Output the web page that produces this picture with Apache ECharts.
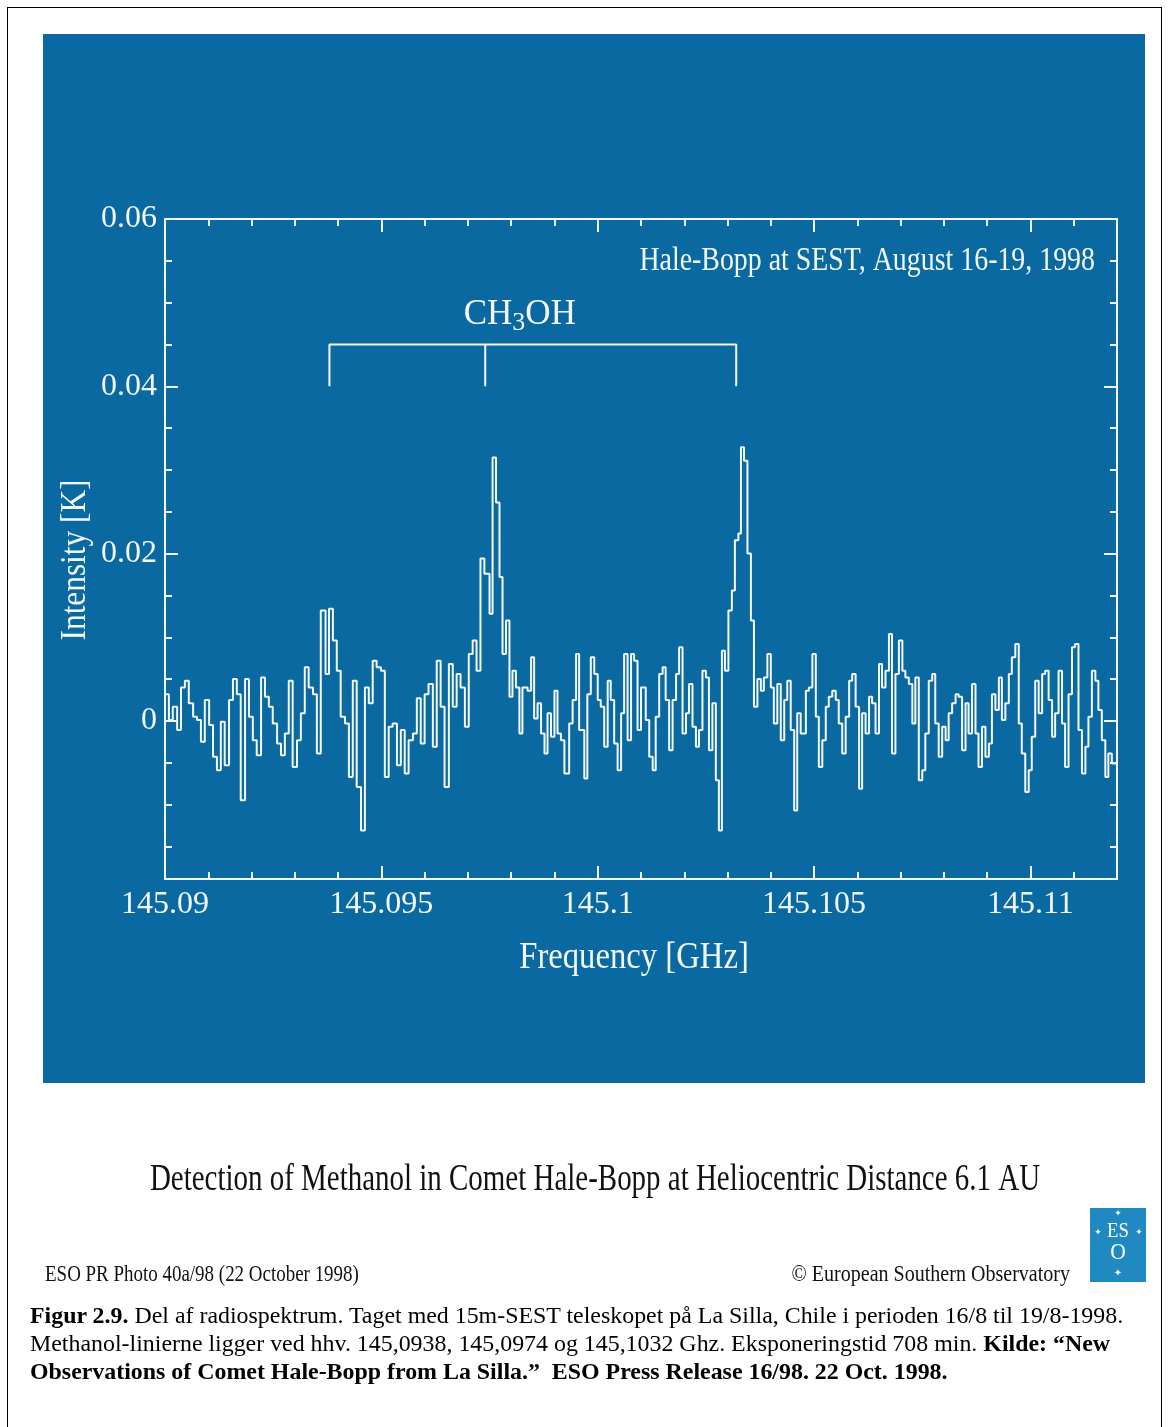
<!DOCTYPE html>
<html><head><meta charset="utf-8">
<script src="https://cdn.jsdelivr.net/npm/echarts@6/dist/echarts.min.js"></script>
<style>
html,body{margin:0;padding:0;background:#fff;}
#wrap{position:relative;width:1169px;height:1427px;overflow:hidden;background:#fff;}
#chart{position:absolute;left:0;top:0;width:1169px;height:1427px;}
#frame{position:absolute;left:7px;top:7px;width:1155px;height:1460px;border:1.5px solid #000;box-sizing:border-box;pointer-events:none;}
#caption{position:absolute;left:30px;top:1301px;font-family:'Liberation Serif','Times New Roman',serif;font-size:23.9px;line-height:28px;color:#000;white-space:nowrap;}
</style></head>
<body>
<div id="wrap">
<div id="chart"></div>
<div id="frame"></div>
<div id="caption"><b>Figur 2.9.</b> Del af radiospektrum. Taget med 15m-SEST teleskopet på La Silla, Chile i perioden 16/8 til 19/8-1998.<br>Methanol-linierne ligger ved hhv. 145,0938, 145,0974 og 145,1032 Ghz. Eksponeringstid 708 min. <b>Kilde: “New</b><br><b>Observations of Comet Hale-Bopp from La Silla.”&nbsp; ESO Press Release 16/98. 22 Oct. 1998.</b></div>
</div>
<script>
// ---------------- DATA ----------------
const frequencyGHz = [
145.09000,145.09009,145.09018,145.09028,145.09037,145.09046,145.09055,145.09065,145.09074,145.09083,
145.09092,145.09102,145.09111,145.09120,145.09129,145.09138,145.09148,145.09157,145.09166,145.09175,
145.09185,145.09194,145.09203,145.09212,145.09222,145.09231,145.09240,145.09249,145.09259,145.09268,
145.09277,145.09286,145.09295,145.09305,145.09314,145.09323,145.09332,145.09342,145.09351,145.09360,
145.09371,145.09379,145.09388,145.09397,145.09406,145.09416,145.09425,145.09434,145.09443,145.09453,
145.09462,145.09471,145.09480,145.09489,145.09499,145.09508,145.09517,145.09526,145.09536,145.09545,
145.09554,145.09563,145.09573,145.09582,145.09591,145.09600,145.09609,145.09619,145.09628,145.09637,
145.09646,145.09656,145.09665,145.09674,145.09683,145.09693,145.09702,145.09711,145.09720,145.09729,
145.09738,145.09750,145.09757,145.09765,145.09773,145.09780,145.09788,145.09796,145.09803,145.09811,
145.09819,145.09826,145.09838,145.09846,145.09853,145.09861,145.09869,145.09877,145.09884,145.09892,
145.09900,145.09907,145.09915,145.09923,145.09934,145.09942,145.09950,145.09957,145.09969,145.09976,
145.09984,145.09992,145.10000,145.10007,145.10015,145.10023,145.10030,145.10038,145.10046,145.10054,
145.10061,145.10069,145.10077,145.10084,145.10092,145.10100,
145.10111,145.10119,145.10127,145.10134,145.10142,145.10150,145.10157,145.10165,145.10173,145.10181,
145.10188,145.10196,145.10204,145.10211,145.10219,145.10227,145.10234,145.10242,145.10250,145.10257,
145.10265,145.10273,145.10280,145.10287,145.10294,145.10302,145.10310,145.10317,145.10325,145.10331,
145.10338,145.10346,145.10354,145.10361,145.10369,145.10377,145.10384,145.10392,145.10400,145.10407,
145.10415,145.10423,145.10431,145.10438,145.10446,145.10454,145.10461,145.10469,
145.10481,145.10488,145.10496,145.10504,145.10511,145.10519,145.10527,145.10534,145.10542,145.10550,
145.10557,145.10565,145.10573,145.10581,145.10588,145.10596,145.10604,145.10611,145.10619,145.10627,
145.10634,145.10642,145.10650,145.10657,145.10665,145.10673,145.10680,145.10688,145.10696,145.10704,
145.10711,145.10719,145.10727,145.10734,145.10742,145.10750,145.10757,145.10765,145.10773,145.10780,
145.10788,145.10796,145.10804,145.10811,145.10819,145.10827,145.10834,
145.10842,145.10850,145.10857,145.10865,145.10873,145.10880,145.10888,145.10896,145.10904,145.10911,
145.10919,145.10927,145.10934,145.10942,145.10950,145.10957,145.10965,145.10973,145.10980,145.10988,
145.10996,145.11003,145.11011,145.11019,145.11027,145.11034,145.11042,145.11050,145.11057,145.11065,
145.11073,145.11080,145.11088,145.11096,145.11103,145.11111,145.11119,145.11127,145.11134,145.11142,
145.11150,145.11157,145.11165,145.11173,145.11180,145.11188,
145.11200
];
const intensityK = [
0.0032,0.0001,0.0017,-0.0011,0.0040,0.0048,0.0021,0.0005,0.0001,-0.0025,
0.0025,-0.0005,-0.0043,-0.0059,-0.0001,-0.0053,0.0025,0.0050,0.0032,-0.0095,
0.0050,0.0005,-0.0023,-0.0041,0.0052,0.0029,0.0017,-0.0003,-0.0027,-0.0041,
-0.0015,0.0048,-0.0055,-0.0023,0.0009,0.0064,0.0040,0.0032,-0.0039,0.0132,
0.0056,0.0134,0.0096,0.0060,0.0005,-0.0003,-0.0067,0.0048,-0.0079,-0.0131,
0.0040,0.0021,0.0072,0.0064,0.0060,-0.0067,-0.0007,-0.0003,-0.0053,-0.0011,
-0.0063,-0.0023,-0.0015,0.0027,-0.0027,0.0032,0.0044,-0.0031,0.0072,0.0017,
-0.0079,0.0068,0.0017,0.0056,0.0040,-0.0007,0.0080,0.0096,0.0060,0.0194,
0.0176,0.0128,0.0315,0.0261,0.0172,0.0080,0.0120,0.0029,0.0060,0.0040,
-0.0015,0.0040,0.0036,0.0076,0.0003,0.0021,-0.0015,-0.0039,0.0009,-0.0019,
0.0036,-0.0015,-0.0023,-0.0063,-0.0003,0.0025,0.0080,-0.0011,-0.0069,0.0032,
0.0076,0.0056,0.0025,0.0017,-0.0031,0.0048,0.0025,-0.0027,-0.0059,0.0009,
0.0080,-0.0023,0.0080,0.0072,-0.0011,0.0040,
0.0001,-0.0043,-0.0059,0.0005,0.0056,0.0064,0.0025,-0.0035,0.0025,0.0056,
0.0088,-0.0015,0.0009,0.0044,-0.0007,-0.0031,-0.0011,0.0060,0.0052,-0.0035,
0.0021,-0.0071,-0.0131,0.0084,0.0060,0.0132,0.0156,0.0216,0.0224,0.0327,
0.0311,0.0200,0.0120,0.0017,0.0050,0.0036,0.0052,0.0080,0.0040,-0.0003,
0.0044,-0.0023,0.0025,0.0048,-0.0011,-0.0107,0.0009,-0.0015,
0.0036,0.0040,0.0080,0.0005,-0.0055,-0.0023,0.0017,0.0029,0.0036,0.0025,
-0.0003,-0.0039,0.0005,0.0048,0.0056,0.0017,-0.0081,0.0009,-0.0015,0.0029,
0.0021,-0.0015,0.0068,0.0040,0.0060,0.0104,-0.0039,0.0056,0.0096,0.0060,
0.0052,0.0044,-0.0003,0.0052,-0.0071,-0.0059,-0.0015,0.0048,0.0056,-0.0003,
-0.0043,-0.0007,-0.0023,0.0009,0.0021,0.0032,0.0029,
-0.0035,0.0021,-0.0015,0.0044,-0.0015,-0.0055,-0.0007,-0.0043,-0.0027,0.0032,
0.0013,0.0052,0.0001,0.0021,0.0056,0.0076,0.0092,-0.0003,-0.0039,-0.0085,
-0.0059,-0.0019,0.0048,0.0009,0.0056,0.0060,0.0025,-0.0019,0.0009,0.0060,
-0.0003,-0.0055,0.0032,0.0088,0.0092,-0.0011,-0.0063,-0.0031,0.0005,0.0060,
0.0048,0.0013,-0.0023,-0.0067,-0.0039,-0.0051,
-0.0051
];
const xMajorTicks = [145.09, 145.095, 145.1, 145.105, 145.11];
const xMinorTicks = [145.090,145.091,145.092,145.093,145.094,145.095,145.096,145.097,145.098,145.099,145.100,
                     145.101,145.102,145.103,145.104,145.105,145.106,145.107,145.108,145.109,145.110,145.111,145.112];
const yMajorTicks = [0, 0.02, 0.04, 0.06];
const yMinorTicks = [-0.015,-0.01,-0.005,0,0.005,0.01,0.015,0.02,0.025,0.03,0.035,0.04,0.045,0.05,0.055,0.06];
const xRange = [145.09, 145.112];
const yRange = [-0.0189, 0.06];
const ch3ohLineFreqs = [145.0938, 145.0974, 145.1032];
const bracketIntensity = [0.040, 0.045];
const ch3ohLabelAt = [145.0982, 0.0485];

// ---------------- STYLE ----------------
const BLUE = '#0a69a0';
const WHITE = '#f3f8fb';
const SERIF = '"Liberation Serif", "DejaVu Serif", serif';

const chart = echarts.init(document.getElementById('chart'), null, {renderer: 'canvas'});

function xAxisDef(pos, ticks, len, labels) {
  return {
    type: 'value', gridIndex: 0, position: pos, min: xRange[0], max: xRange[1],
    axisLine: {show: false, onZero: false},
    splitLine: {show: false},
    axisTick: {show: true, inside: true, length: len, customValues: ticks, lineStyle: {color: WHITE, width: 2}},
    axisLabel: labels ? {show: true, customValues: ticks, margin: 10, color: WHITE, fontFamily: SERIF, fontSize: 32,
      formatter: v => String(+(+v).toFixed(3))} : {show: false}
  };
}
function yAxisDef(pos, ticks, len, labels) {
  return {
    type: 'value', gridIndex: 0, position: pos, min: yRange[0], max: yRange[1],
    axisLine: {show: false, onZero: false},
    splitLine: {show: false},
    axisTick: {show: true, inside: true, length: len, customValues: ticks, lineStyle: {color: WHITE, width: 2}},
    axisLabel: labels ? {show: true, customValues: ticks, margin: 8, color: WHITE, fontFamily: SERIF, fontSize: 32,
      formatter: v => (Math.abs(v) < 1e-9 ? '0' : (+v).toFixed(2))} : {show: false}
  };
}

const spectrum = frequencyGHz.map((f, i) => [f, intensityK[i]]);
const bracketOuter = [
  [ch3ohLineFreqs[0], bracketIntensity[0]], [ch3ohLineFreqs[0], bracketIntensity[1]],
  [ch3ohLineFreqs[2], bracketIntensity[1]], [ch3ohLineFreqs[2], bracketIntensity[0]]
];
const bracketMiddle = [[ch3ohLineFreqs[1], bracketIntensity[1]], [ch3ohLineFreqs[1], bracketIntensity[0]]];

const option = {
  backgroundColor: 'transparent',
  animation: false,
  grid: [{left: 165, top: 219, width: 952, height: 660, show: true, borderColor: WHITE, borderWidth: 2, backgroundColor: 'transparent'}],
  xAxis: [
    xAxisDef('bottom', xMinorTicks, 7, false),
    xAxisDef('bottom', xMajorTicks, 13, true),
    xAxisDef('top', xMinorTicks, 7, false),
    xAxisDef('top', xMajorTicks, 13, false)
  ],
  yAxis: [
    yAxisDef('left', yMinorTicks, 7, false),
    yAxisDef('left', yMajorTicks, 13, true),
    yAxisDef('right', yMinorTicks, 7, false),
    yAxisDef('right', yMajorTicks, 13, false)
  ],
  graphic: [
    {type: 'rect', z: -100, shape: {x: 43, y: 34, width: 1102, height: 1049}, style: {fill: BLUE}},
    {type: 'text', z: 100, x: 76, y: 560, rotation: Math.PI / 2, scaleX: 0.87,
      style: {text: 'Intensity [K]', font: '36px ' + SERIF, fill: WHITE, textAlign: 'center', textVerticalAlign: 'middle'}},
    {type: 'text', z: 100, x: 634, y: 958, scaleX: 0.86,
      style: {text: 'Frequency [GHz]', font: '38px ' + SERIF, fill: WHITE, textAlign: 'center', textVerticalAlign: 'middle'}},
    {type: 'text', z: 100, x: 1095, y: 261, scaleX: 0.82,
      style: {text: 'Hale-Bopp at SEST, August 16-19, 1998', font: '34px ' + SERIF, fill: WHITE, textAlign: 'right', textVerticalAlign: 'middle'}},
    {type: 'text', z: 100, x: 595, y: 1180, scaleX: 0.762,
      style: {text: 'Detection of Methanol in Comet Hale-Bopp at Heliocentric Distance 6.1 AU', font: '38px ' + SERIF, fill: '#111', textAlign: 'center', textVerticalAlign: 'middle'}},
    {type: 'text', z: 100, x: 45, y: 1275, scaleX: 0.79,
      style: {text: 'ESO PR Photo 40a/98 (22 October 1998)', font: '24px ' + SERIF, fill: '#111', textAlign: 'left', textVerticalAlign: 'middle'}},
    {type: 'text', z: 100, x: 1070, y: 1275, scaleX: 0.835,
      style: {text: '© European Southern Observatory', font: '24px ' + SERIF, fill: '#111', textAlign: 'right', textVerticalAlign: 'middle'}},
    {type: 'rect', z: 100, shape: {x: 1090, y: 1208, width: 56, height: 74}, style: {fill: '#2189c2'}},
    {type: 'text', z: 101, x: 1118, y: 1231, scaleX: 0.85,
      style: {text: 'ES', font: '22px ' + SERIF, fill: '#fff', textAlign: 'center', textVerticalAlign: 'middle'}},
    {type: 'text', z: 101, x: 1118, y: 1253, scaleX: 0.9,
      style: {text: 'O', font: '24px ' + SERIF, fill: '#fff', textAlign: 'center', textVerticalAlign: 'middle'}},
    {type: 'text', z: 101, x: 1118, y: 1214, style: {text: '✦', font: '9px "DejaVu Sans"', fill: '#fff', textAlign: 'center', textVerticalAlign: 'middle'}},
    {type: 'text', z: 101, x: 1098, y: 1233, style: {text: '✦', font: '9px "DejaVu Sans"', fill: '#fff', textAlign: 'center', textVerticalAlign: 'middle'}},
    {type: 'text', z: 101, x: 1139, y: 1233, style: {text: '✦', font: '9px "DejaVu Sans"', fill: '#fff', textAlign: 'center', textVerticalAlign: 'middle'}},
    {type: 'text', z: 101, x: 1118, y: 1273, style: {text: '✦', font: '10px "DejaVu Sans"', fill: '#fff', textAlign: 'center', textVerticalAlign: 'middle'}}
  ],
  series: [
    {type: 'line', name: 'spectrum', xAxisIndex: 0, yAxisIndex: 0, data: spectrum, step: 'end',
      showSymbol: false, symbol: 'none', clip: true, z: 5,
      lineStyle: {color: WHITE, width: 2}},
    {type: 'line', name: 'bracket', xAxisIndex: 0, yAxisIndex: 0, data: bracketOuter, showSymbol: false, symbol: 'none', z: 5,
      lineStyle: {color: WHITE, width: 2}},
    {type: 'line', name: 'bracketMid', xAxisIndex: 0, yAxisIndex: 0, data: bracketMiddle, showSymbol: false, symbol: 'none', z: 5,
      lineStyle: {color: WHITE, width: 2}},
    {type: 'scatter', name: 'label', xAxisIndex: 0, yAxisIndex: 0, data: [ch3ohLabelAt], symbolSize: 0, silent: true, z: 6,
      itemStyle: {color: WHITE, opacity: 1},
      label: {show: true, position: 'inside', color: WHITE, opacity: 1, textBorderWidth: 0, formatter: '{a|CH}{b|3}{a|OH}',
        rich: {
          a: {fontSize: 35, fontFamily: SERIF, color: WHITE, textBorderWidth: 0},
          b: {fontSize: 26, fontFamily: SERIF, color: WHITE, textBorderWidth: 0, padding: [16, 0, 0, 0]}
        }}}
  ]
};
chart.setOption(option);
</script>
</body></html>
